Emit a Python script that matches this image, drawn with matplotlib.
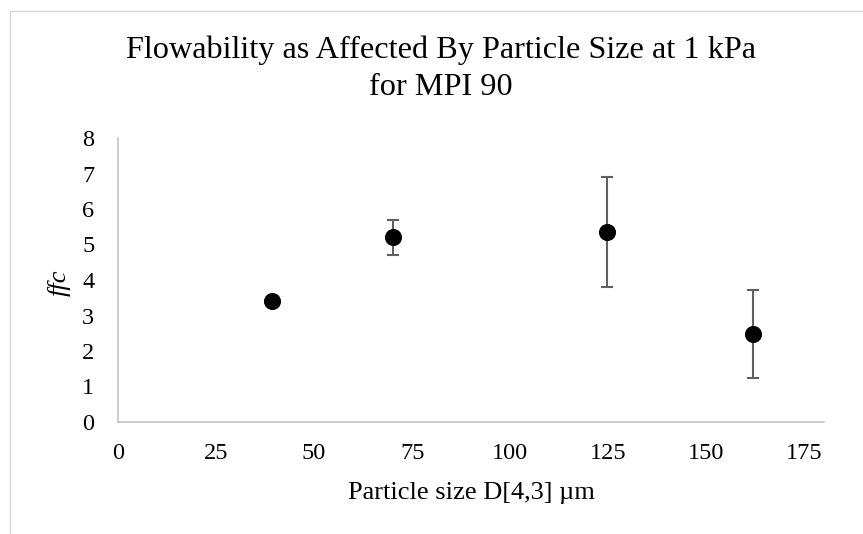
import matplotlib
matplotlib.use("Agg")
import matplotlib.pyplot as plt
from matplotlib.patches import Rectangle

particle_size = [39.3, 70.0, 124.6, 162.0]
ffc = [3.42, 5.20, 5.35, 2.48]
ffc_err = [0.0, 0.49, 1.55, 1.25]
x_ticks = [0, 25, 50, 75, 100, 125, 150, 175]
y_ticks = [0, 1, 2, 3, 4, 5, 6, 7, 8]

plt.rcParams['font.family'] = ['Liberation Serif', 'DejaVu Serif']

W, H = 863, 534
fig = plt.figure(figsize=(W / 100, H / 100), dpi=100)
fig.patch.set_facecolor('white')

# chart-area border (partly outside the image)
fig.patches.append(Rectangle((10 / W, -0.1), 1.2, 1.1 - 11 / H,
                             transform=fig.transFigure, fill=False,
                             edgecolor='#D9D9D9', linewidth=1.0))

ax = fig.add_axes([118 / W, (H - 422) / H, (824 - 118) / W, (422 - 138) / H])
ax.errorbar(particle_size, ffc, yerr=ffc_err, fmt='o', color='black',
            markersize=11.3, ecolor='#5F5F5F', elinewidth=1.5,
            capsize=4.5, capthick=1.5, zorder=3)

ax.set_xlim(0, 180)
ax.set_ylim(0, 8)
ax.set_xticks(x_ticks)
ax.set_yticks(y_ticks)
ax.tick_params(axis='both', length=0, labelsize=17.5)
ax.tick_params(axis='x', pad=15)
ax.tick_params(axis='y', pad=17)
for s in ['top', 'right']:
    ax.spines[s].set_visible(False)
for s in ['left', 'bottom']:
    ax.spines[s].set_color('#BFBFBF')
    ax.spines[s].set_linewidth(1.1)

fig.text(440.5 / W, 1 - 50 / H, 'Flowability as Affected By Particle Size at 1 kPa',
         ha='center', va='center', fontsize=23.2)
fig.text(440.5 / W, 1 - 87 / H, 'for MPI 90', ha='center', va='center', fontsize=23.2)
fig.text(471 / W, 1 - 493 / H, 'Particle size D[4,3] \u00b5m', ha='center',
         va='center', fontsize=19)
fig.text(59 / W, 1 - 283 / H, 'ffc', ha='center', va='center', fontsize=19,
         style='italic', rotation=90)

fig.savefig('out.png', dpi=100, facecolor='white')
